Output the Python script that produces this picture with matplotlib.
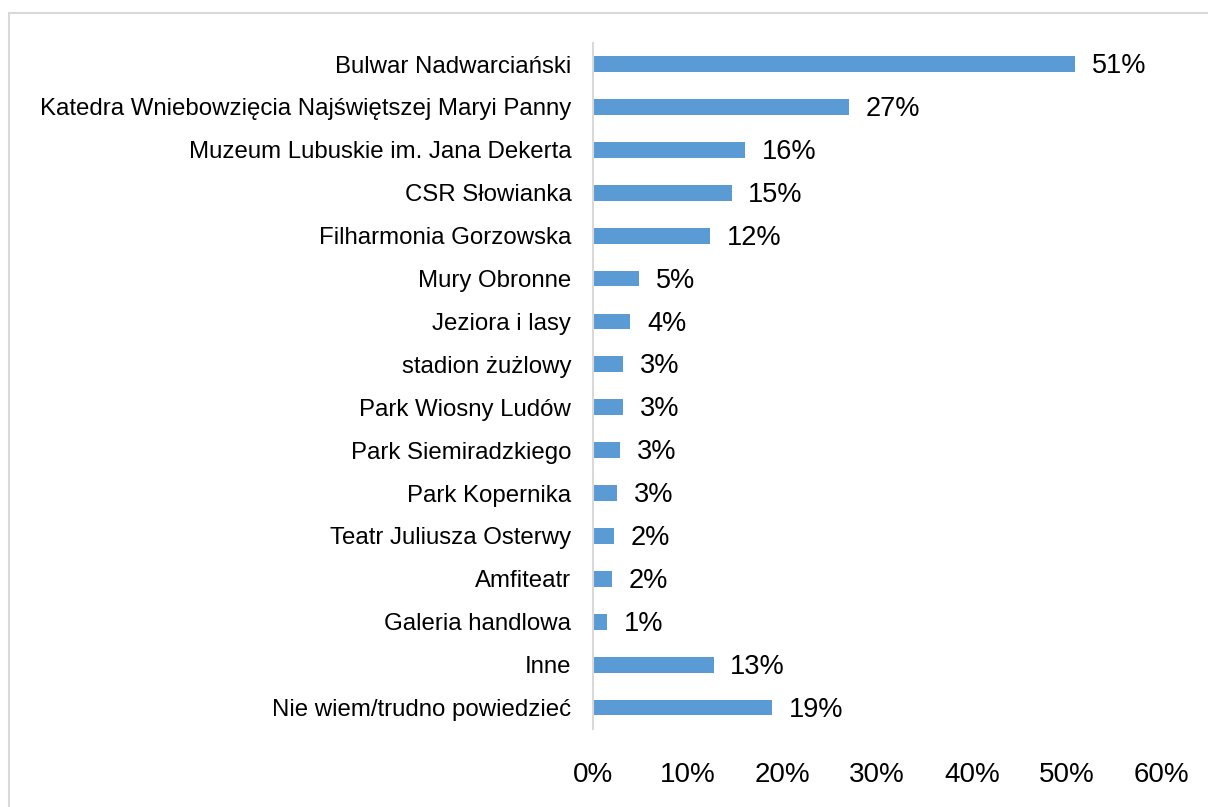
import matplotlib
matplotlib.use("Agg")
import matplotlib.pyplot as plt
from matplotlib.patches import Rectangle
from matplotlib.ticker import FuncFormatter

plt.rcParams['font.family'] = ['Liberation Sans', 'DejaVu Sans']

# categories top to bottom
categories = [
    "Bulwar Nadwarciański",
    "Katedra Wniebowzięcia Najświętszej Maryi Panny",
    "Muzeum Lubuskie im. Jana Dekerta",
    "CSR Słowianka",
    "Filharmonia Gorzowska",
    "Mury Obronne",
    "Jeziora i lasy",
    "stadion żużlowy",
    "Park Wiosny Ludów",
    "Park Siemiradzkiego",
    "Park Kopernika",
    "Teatr Juliusza Osterwy",
    "Amfiteatr",
    "Galeria handlowa",
    "Inne",
    "Nie wiem/trudno powiedzieć",
]
values = [0.509, 0.270, 0.160, 0.146, 0.123, 0.048, 0.039, 0.031, 0.031,
          0.028, 0.025, 0.022, 0.020, 0.014, 0.127, 0.189]
labels = ["51%", "27%", "16%", "15%", "12%", "5%", "4%", "3%", "3%",
          "3%", "3%", "2%", "2%", "1%", "13%", "19%"]
xticks = [0, 0.1, 0.2, 0.3, 0.4, 0.5, 0.6]

fig = plt.figure(figsize=(12.08, 8.07), dpi=100)
ax = fig.add_axes([0.4913, 0.0967, 0.4698, 0.8505])

pos = list(range(len(categories)))
ax.barh(pos, values, height=0.37, color='#5B9BD5')
for p, v, t in zip(pos, values, labels):
    ax.annotate(t, (v, p), xytext=(12, -1.5), textcoords='offset points',
                ha='left', va='center', fontsize=19.5, color='#000000')

ax.set_ylim(len(categories) - 0.5, -0.5)
ax.set_xlim(0, 0.6)
ax.set_yticks(pos)
ax.set_yticklabels(categories, fontsize=17.3)
ax.set_xticks(xticks)
ax.xaxis.set_major_formatter(FuncFormatter(lambda x, _: "%d%%" % round(x * 100)))
ax.tick_params(axis='x', length=0, labelsize=20, pad=24)
ax.tick_params(axis='y', length=0, pad=16)

for s in ['top', 'right', 'bottom']:
    ax.spines[s].set_visible(False)
ax.spines['left'].set_color('#D9D9D9')
ax.spines['left'].set_linewidth(1.5)

# outer chart border
fig.patches.append(Rectangle((9 / 1208, -0.1), 1.1, 1 - 13 / 807 + 0.1,
                             transform=fig.transFigure, fill=False,
                             edgecolor='#D9D9D9', linewidth=1.5))

fig.savefig("out.png", dpi=100)
